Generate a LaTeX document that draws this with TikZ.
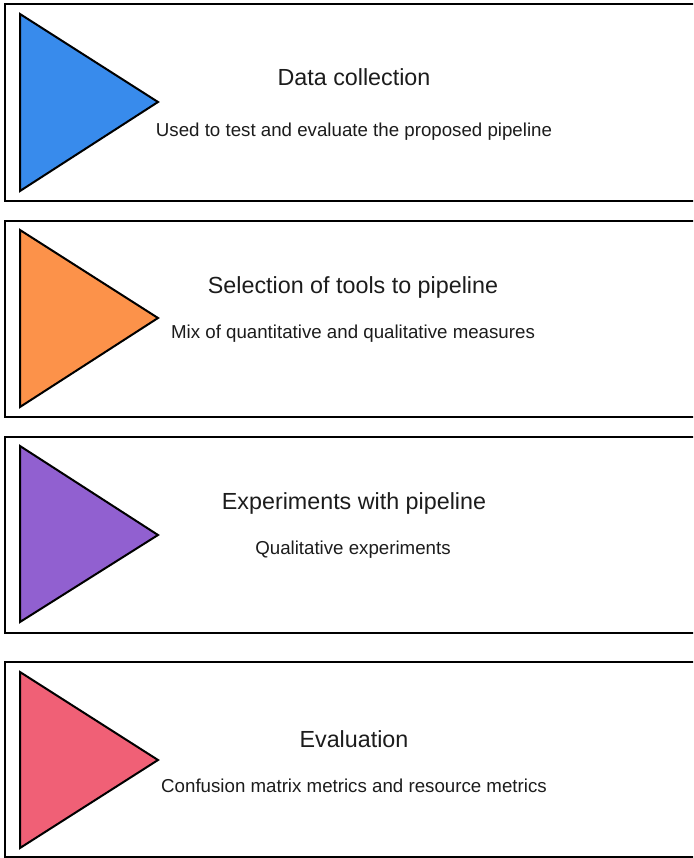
\documentclass[tikz,border=0pt]{standalone}
\usepackage{fontspec}
\setmainfont{Liberation Sans}
\definecolor{cblue}{RGB}{56,139,236}
\definecolor{corange}{RGB}{252,146,74}
\definecolor{cpurple}{RGB}{145,96,208}
\definecolor{cpink}{RGB}{240,96,118}
\definecolor{ctext}{RGB}{28,28,28}
\tikzset{
  stagebox/.style={draw=black, line width=2pt, fill=white},
  tri/.style={draw=black, line width=2pt, line join=miter},
  titletext/.style={text=ctext, font=\fontsize{23.3}{27}\selectfont, inner sep=0pt},
  subtext/.style={text=ctext, font=\fontsize{18.7}{22}\selectfont, inner sep=0pt},
}
\begin{document}
\begin{tikzpicture}[x=1pt,y=-1pt]
\useasboundingbox (0,0) rectangle (693,858);
\begin{scope}
\clip (0,0) rectangle (693,858);
% boxes
\draw[stagebox] (5,4) rectangle (705,201);
\draw[stagebox] (5,221) rectangle (705,417);
\draw[stagebox] (5,437) rectangle (705,633);
\draw[stagebox] (5,662) rectangle (705,857);
% triangles
\filldraw[tri, fill=cblue] (20,14) -- (158,102) -- (20,191) -- cycle;
\filldraw[tri, fill=corange] (20,230) -- (158,318) -- (20,407) -- cycle;
\filldraw[tri, fill=cpurple] (20,446) -- (158,535) -- (20,622) -- cycle;
\filldraw[tri, fill=cpink] (20,672) -- (158,760) -- (20,848) -- cycle;
\end{scope}
% texts
\node[titletext] (t1) at (354,77) {Data collection};
\node[subtext] (s1) at (354,132) {Used to test and evaluate the proposed pipeline};
\node[titletext] (t2) at (353,287) {Selection of tools to pipeline};
\node[subtext] (s2) at (353,334) {Mix of quantitative and qualitative measures};
\node[titletext] (t3) at (354,503) {Experiments with pipeline};
\node[subtext] (s3) at (353,550) {Qualitative experiments};
\node[titletext] (t4) at (354,739) {Evaluation};
\node[subtext] (s4) at (354,786) {Confusion matrix metrics and resource metrics};
\end{tikzpicture}
\end{document}
